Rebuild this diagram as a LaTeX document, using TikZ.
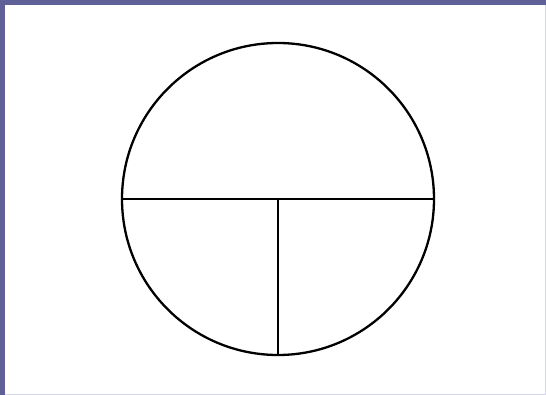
\documentclass[tikz,border=0pt]{standalone}
\definecolor{frame}{RGB}{96,96,152}
\definecolor{framelight}{RGB}{215,215,232}
\tikzset{part/.style={line width=2.3pt, black}}
\begin{document}
\begin{tikzpicture}[x=1pt, y=-1pt]
        % Frame
        \fill[frame] (0,0) rectangle (546,395);
        \fill[framelight] (5,5) rectangle (546,395);
        \fill[white] (5,5) rectangle (544.5,393.5);
        \useasboundingbox (0,0) rectangle (546,395);

        % Circle and its dividing lines
        \node[circle, minimum size=312pt, inner sep=0pt, draw, part] (pie) at (278,199) {};
        \coordinate (mid) at (pie.center);
        \draw[part] (pie.west) -- (pie.east);
        \draw[part] (mid) -- (pie.south);
    \end{tikzpicture}
\end{document}
